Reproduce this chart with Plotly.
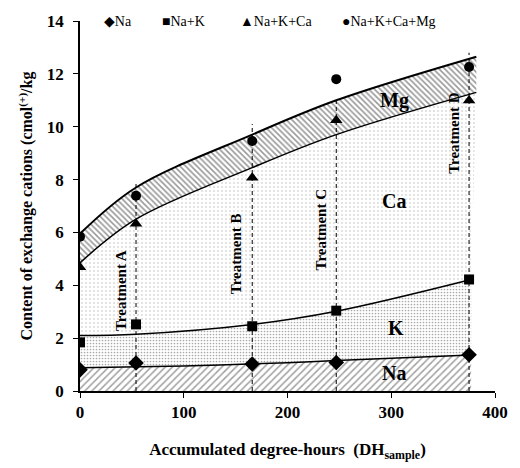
import plotly.graph_objects as go

# measured points
dh = [0, 54, 166, 247, 375]
na = [0.80, 1.06, 1.02, 1.08, 1.37]
na_k = [1.84, 2.52, 2.45, 3.04, 4.22]
na_k_ca = [4.68, 6.33, 8.07, 10.24, 10.99]
na_k_ca_mg = [5.84, 7.39, 9.46, 11.80, 12.26]

series_names = ["Na", "Na+K", "Na+K+Ca", "Na+K+Ca+Mg"]
series_symbols = ["◆", "■", "▲", "●"]
legend_x = [103, 162, 242, 347]  # pixel anchors of the legend entries

x_ticks = [0, 100, 200, 300, 400]
y_ticks = [0, 2, 4, 6, 8, 10, 12, 14]

# fitted boundary curves
na_fit_x = [0, 100, 200, 247, 377]
na_fit_y = [0.88, 0.95, 1.07, 1.15, 1.36]
k_fit_x = [0, 54, 166, 247, 377]
k_fit_y = [2.10, 2.15, 2.52, 3.02, 4.22]
ca_fit_x = [0, 54, 166, 247, 382]
ca_fit_y = [4.85, 6.50, 8.45, 9.70, 11.30]
mg_fit_x = [0, 54, 166, 247, 382]
mg_fit_y = [5.95, 7.70, 9.70, 11.00, 12.65]

treat_x = [54, 166, 247, 375]
treat_top = [7.9, 10.1, 11.1, 12.8]
treat_names = ["Treatment A", "Treatment B", "Treatment C", "Treatment D"]
treat_lab_x = [39, 150, 232, 361]
treat_lab_y = [3.8, 5.2, 6.1, 9.75]

regions = ["Na", "K", "Ca", "Mg"]
region_x = [303, 305, 303, 303]
region_y = [0.7, 2.4, 7.2, 11.0]

FONT = "Liberation Serif, Times New Roman, DejaVu Serif, serif"

fig = go.Figure()

# filled regions
fig.add_trace(go.Scatter(x=na_fit_x, y=na_fit_y, mode="lines", line=dict(color="black", width=1.5, shape="spline"),
                         fill="tozeroy", fillcolor="white",
                         fillpattern=dict(shape="/", fgcolor="#444", bgcolor="white", size=5, solidity=0.3),
                         showlegend=False, hoverinfo="skip"))
fig.add_trace(go.Scatter(x=k_fit_x, y=k_fit_y, mode="lines", line=dict(color="black", width=1.5, shape="spline"),
                         fill="tonexty", fillcolor="white",
                         fillpattern=dict(shape=".", fgcolor="#555", bgcolor="white", size=3, solidity=0.25),
                         showlegend=False, hoverinfo="skip"))
fig.add_trace(go.Scatter(x=ca_fit_x, y=ca_fit_y, mode="lines", line=dict(color="black", width=1.5, shape="spline"),
                         fill="tonexty", fillcolor="white",
                         fillpattern=dict(shape=".", fgcolor="#777", bgcolor="white", size=4, solidity=0.12),
                         showlegend=False, hoverinfo="skip"))
fig.add_trace(go.Scatter(x=mg_fit_x, y=mg_fit_y, mode="lines", line=dict(color="black", width=2, shape="spline"),
                         fill="tonexty", fillcolor="white",
                         fillpattern=dict(shape="\\", fgcolor="#333", bgcolor="white", size=4, solidity=0.4),
                         showlegend=False, hoverinfo="skip"))

# dashed treatment lines
dx, dy = [], []
for x, t in zip(treat_x, treat_top):
    dx += [x, x, None]
    dy += [0, t, None]
fig.add_trace(go.Scatter(x=dx, y=dy, mode="lines", line=dict(color="black", width=1, dash="4px,3px"),
                         showlegend=False, hoverinfo="skip"))

# markers
fig.add_trace(go.Scatter(x=dh, y=na, mode="markers", name=series_names[0], showlegend=False,
                         marker=dict(symbol="diamond", size=12, color="black")))
fig.add_trace(go.Scatter(x=dh, y=na_k, mode="markers", name=series_names[1], showlegend=False,
                         marker=dict(symbol="square", size=10, color="black")))
fig.add_trace(go.Scatter(x=dh, y=na_k_ca, mode="markers", name=series_names[2], showlegend=False,
                         marker=dict(symbol="triangle-up", size=11, color="black")))
fig.add_trace(go.Scatter(x=dh, y=na_k_ca_mg, mode="markers", name=series_names[3], showlegend=False,
                         marker=dict(symbol="circle", size=10, color="black")))

# legend row
for sym, name, px in zip(series_symbols, series_names, legend_x):
    fig.add_annotation(xref="paper", yref="paper", x=(px - 80) / 426, y=1.0, xanchor="left", yanchor="middle",
                       text=sym + name, showarrow=False,
                       font=dict(family=FONT, size=14, color="black"))

for name, x, y in zip(treat_names, treat_lab_x, treat_lab_y):
    fig.add_annotation(x=x, y=y, text="<b>%s</b>" % name, textangle=-90, showarrow=False,
                       font=dict(family=FONT, size=15, color="black"))
for name, x, y in zip(regions, region_x, region_y):
    fig.add_annotation(x=x, y=y, text="<b>%s</b>" % name, showarrow=False,
                       font=dict(family=FONT, size=20, color="black"))

fig.update_layout(
    width=520, height=468,
    margin=dict(l=80, r=14, t=16, b=76),
    paper_bgcolor="white", plot_bgcolor="white",
    font=dict(family=FONT, color="black"),
    showlegend=False,
    xaxis=dict(range=[0, 400], tickmode="array", tickvals=x_ticks,
               ticktext=["<b>%d</b>" % v for v in x_ticks], showgrid=False, zeroline=False,
               showline=True, linecolor="black", linewidth=1.5, ticks="outside", ticklen=5,
               tickcolor="black", tickfont=dict(family=FONT, size=17, color="black", weight="bold"),
               title=dict(text="<b>Accumulated degree-hours  (DH<sub>sample</sub>)</b>",
                          font=dict(family=FONT, size=17), standoff=22)),
    yaxis=dict(range=[0, 14], tickmode="array", tickvals=y_ticks,
               ticktext=["<b>%d</b>" % v for v in y_ticks], showgrid=False, zeroline=False,
               showline=True, linecolor="black", linewidth=1.5, ticks="outside", ticklen=5,
               tickcolor="black", tickfont=dict(family=FONT, size=17, color="black", weight="bold"),
               ticklabelstandoff=6,
               title=dict(text="<b>Content of exchange cations (cmol<sup>(+)</sup>/kg</b>",
                          font=dict(family=FONT, size=16), standoff=10)),
)

fig.write_html("out.html")
